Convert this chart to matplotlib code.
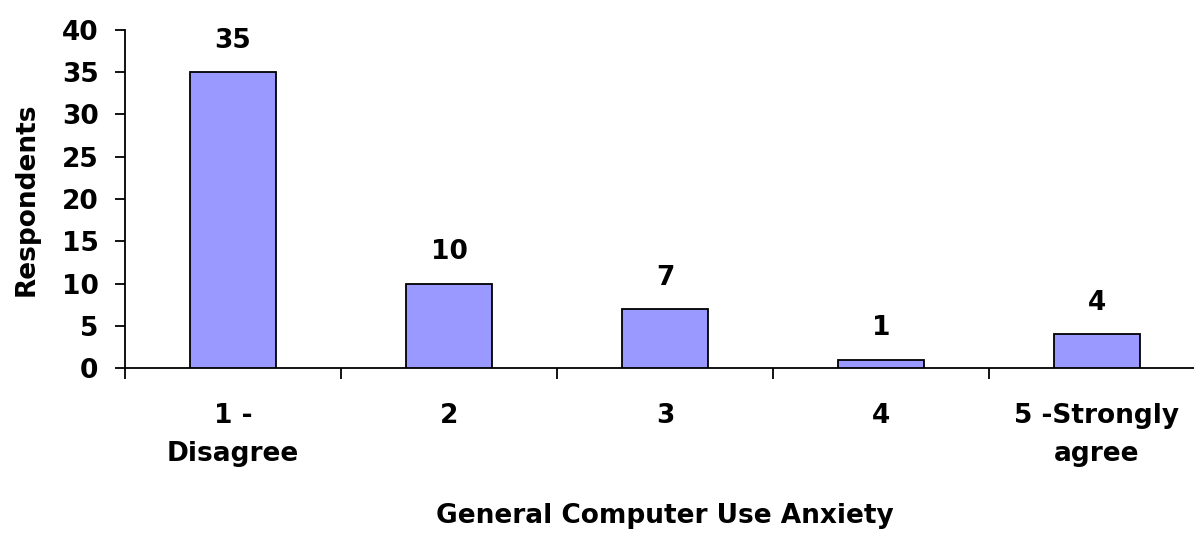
"""
Bar chart: respondents by general computer use anxiety rating.
"""

import matplotlib
matplotlib.use('Agg')
import matplotlib.pyplot as plt
from matplotlib.ticker import FixedLocator, NullFormatter

# data
categories = ['1 -\nDisagree', '2', '3', '4', '5 -Strongly\nagree']
respondents = [35, 10, 7, 1, 4]
y_ticks = [0, 5, 10, 15, 20, 25, 30, 35, 40]

BAR_COLOR = '#9999FF'
FS = 19
W, H = 1194, 534

plt.rcParams['font.family'] = ['DejaVu Sans']
plt.rcParams['font.weight'] = 'bold'

fig = plt.figure(figsize=(W / 100, H / 100), dpi=100)
# axes box in pixels: left 125, bottom y=368, top y=30, width 5 cats * 216
ax = fig.add_axes([125 / W, (H - 368) / H, 1080 / W, 338 / H])

x = list(range(len(categories)))
ax.bar(x, respondents, width=0.4, color=BAR_COLOR,
       edgecolor='black', linewidth=1.3, zorder=3)

for xi, v in zip(x, respondents):
    ax.annotate(str(v), (xi, v), xytext=(0, 13), textcoords='offset points',
                ha='center', va='bottom', fontsize=FS, fontweight='bold')

ax.set_xlim(-0.5, len(categories) - 0.5)
ax.set_ylim(0, 40)
ax.set_yticks(y_ticks)
ax.tick_params(axis='y', direction='out', length=7, width=1.3,
               labelsize=FS, pad=12)

# category labels centred, tick marks on category boundaries
ax.set_xticks(x)
ax.set_xticklabels(categories, fontsize=FS, fontweight='bold',
                   linespacing=1.6)
ax.tick_params(axis='x', which='major', length=0, pad=25)
ax.xaxis.set_minor_locator(FixedLocator([i - 0.5 for i in range(len(categories) + 1)]))
ax.xaxis.set_minor_formatter(NullFormatter())
ax.tick_params(axis='x', which='minor', direction='out', length=8, width=1.3)

for side in ['top', 'right']:
    ax.spines[side].set_visible(False)
for side in ['left', 'bottom']:
    ax.spines[side].set_linewidth(1.3)

ax.set_ylabel('Respondents', fontsize=FS, fontweight='bold', labelpad=16)
ax.set_xlabel('General Computer Use Anxiety', fontsize=FS, fontweight='bold',
              labelpad=26)

fig.savefig('out.png', dpi=100)
